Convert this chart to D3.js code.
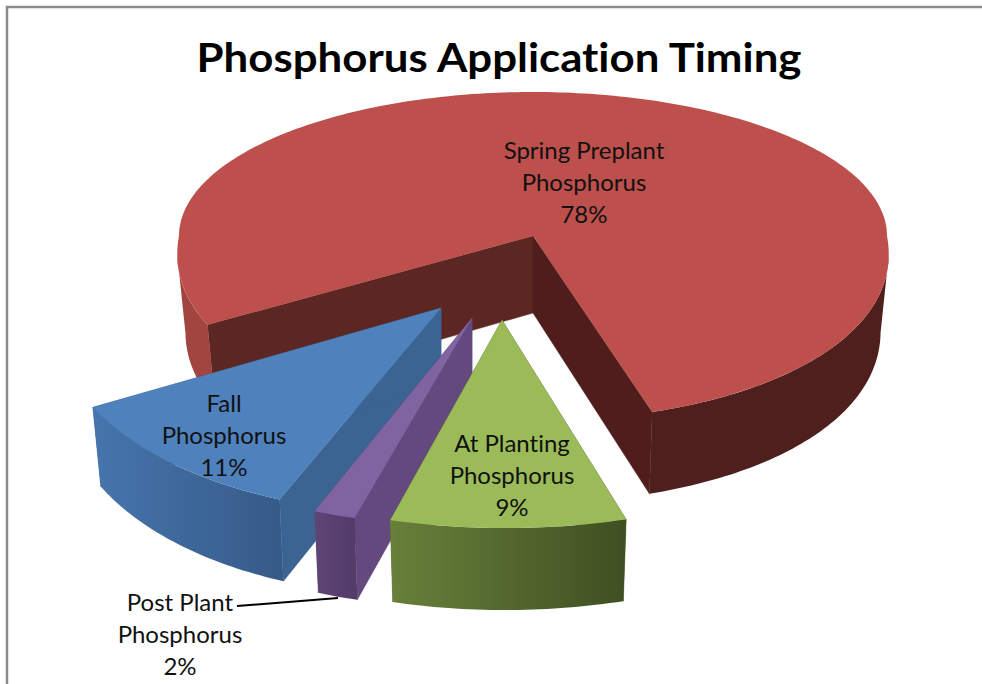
<!DOCTYPE html>
<html>
<head>
<meta charset="utf-8">
<script src="https://cdn.jsdelivr.net/npm/d3@7/dist/d3.min.js"></script>
<style>
html,body{margin:0;padding:0;background:#fff;}
svg{display:block;}
text{font-family:Lato,"Open Sans",sans-serif;fill:#111;text-anchor:middle;font-variant-ligatures:none;}
</style>
</head>
<body>
<svg id="chart" width="982" height="684"></svg>
<script>
// ---- data ----
const chartTitle = "Phosphorus Application Timing";
const categories = ["Spring Preplant Phosphorus", "At Planting Phosphorus", "Post Plant Phosphorus", "Fall Phosphorus"];
const values = [78, 9, 2, 11];
const labelLines = [["Spring Preplant", "Phosphorus"], ["At Planting", "Phosphorus"], ["Post Plant", "Phosphorus"], ["Fall", "Phosphorus"]];

// ---- styles ----
const topColors = ["#bd4f4c", "#9bbb59", "#8064a2", "#4f81bd"];
const startWallColors = ["#5c2623", "#5c7034", "#63497d", "#3b6492"];
const endWallColors = ["#4f1e1c", "#5c7034", "#63497d", "#3b6492"];
const outerLeft = ["#4f201e", "#68803a", "#5f4575", "#4675ad"];
const outerRight = ["#4c1e1c", "#3f4f22", "#523b68", "#365a87"];

// ---- 3D view of each exploded slice: apex and projection of the unit disc ----
const firstSliceAngle = 241.3;
const drawOrder = [0, 3, 2, 1];
const apexX = [533, 502, 472, 441];
const apexY = [236, 320, 318, 308];
const viewA = [354, 423, 345, 386];
const viewB = [0, -6.1, -32, -20];
const viewC = [0, 4.7, -9.7, -0.4];
const viewFront = [185, 208, 204, 206];
const viewBack = [144, 208, 204, 206];
const widen = [0.1, 0, 0, 0];
const depthBase = 77, depthGrow = 5, depthShrink = 0.977;
const labelX = [584, 512, 180, 224];
const labelY = [159, 452, 611, 412];
const labelStep = 32;

// ---- drawing ----
const svg = d3.select("#chart");
const defs = svg.append("defs");
const rad = d => d * Math.PI / 180;

const pie = d3.pie().sort(null).value(d => d)
  .startAngle(rad(firstSliceAngle)).endAngle(rad(firstSliceAngle + 360));
const arcs = pie(values);

function project(i, a) {
  const u = Math.sin(a), v = -Math.cos(a);
  const s = 1 + widen[i] * Math.max(v, 0);
  const d = v < 0 ? viewBack[i] : viewFront[i];
  return [viewA[i] * u * s + viewB[i] * v, viewC[i] * u + d * v, v];
}
const onTop = (i, a) => { const p = project(i, a); return [apexX[i] + p[0], apexY[i] + p[1]]; };
const onBase = (i, a) => {
  const p = project(i, a);
  return [apexX[i] + p[0] * depthShrink, apexY[i] + p[1] + depthBase + depthGrow * Math.max(p[2], 0)];
};
const apexTop = i => [apexX[i], apexY[i]];
const apexBase = i => [apexX[i], apexY[i] + depthBase];
const line = d3.line();
const closed = pts => line(pts) + "Z";
const sweep = (a0, a1) => {
  const n = Math.max(4, Math.ceil(Math.abs(a1 - a0) / rad(1)));
  return d3.range(n + 1).map(k => a0 + (a1 - a0) * k / n);
};

// frame: only the top and left edges show
svg.append("path")
  .attr("d", line([[7, 684], [7, 7], [982, 7]]))
  .attr("fill", "none").attr("stroke", "#8a8a8a").attr("stroke-width", 2.5);

// title
svg.append("text").attr("x", 499).attr("y", 72)
  .attr("font-size", 40).attr("font-weight", 700)
  .attr("textLength", 605).attr("lengthAdjust", "spacingAndGlyphs")
  .style("fill", "#000").text(chartTitle);

drawOrder.forEach(i => {
  const d = arcs[i];
  const g = svg.append("g").attr("class", "slice");
  // flat cut faces
  [[d.startAngle, startWallColors[i]], [d.endAngle, endWallColors[i]]].forEach(([a, c]) => {
    g.append("path")
      .attr("d", closed([apexTop(i), onTop(i, a), onBase(i, a), apexBase(i)]))
      .attr("fill", c).attr("stroke", c).attr("stroke-width", 0.5);
  });
  // rim
  const runs = i === 0
    ? [[d.endAngle - 2 * Math.PI, rad(96), "#4e1f1d"], [d.startAngle, rad(264), "#a24541"]]
    : [[d.startAngle, d.endAngle, null]];
  runs.forEach(([a0, a1, col]) => {
    const ang = sweep(a0, a1);
    const tops = ang.map(a => onTop(i, a));
    const bots = ang.map(a => onBase(i, a));
    let fill = col;
    if (i > 0) {
      const id = "rim" + i;
      const xs = tops.concat(bots).map(p => p[0]);
      const lg = defs.append("linearGradient").attr("id", id)
        .attr("gradientUnits", "userSpaceOnUse")
        .attr("x1", d3.min(xs)).attr("x2", d3.max(xs)).attr("y1", 0).attr("y2", 0);
      lg.append("stop").attr("offset", 0).attr("stop-color", outerLeft[i]);
      lg.append("stop").attr("offset", 1).attr("stop-color", outerRight[i]);
      fill = `url(#${id})`;
    }
    g.append("path").attr("d", closed(tops.concat(bots.reverse())))
      .attr("fill", fill);
  });
  // top face
  const rim = sweep(d.startAngle, d.endAngle).map(a => onTop(i, a));
  g.append("path").attr("d", closed([apexTop(i)].concat(rim))).attr("fill", topColors[i]);
});

// leader line
svg.append("path")
  .attr("d", line([[237, 606], [338, 598]]))
  .attr("fill", "none").attr("stroke", "#000").attr("stroke-width", 2);

// labels
arcs.forEach((d, i) => {
  const rows = labelLines[i].concat([values[i] + "%"]);
  svg.append("g").selectAll("text").data(rows).join("text")
    .attr("x", labelX[i])
    .attr("y", (t, k) => labelY[i] + k * labelStep)
    .attr("font-size", 24)
    .text(t => t);
});
</script>
</body>
</html>
